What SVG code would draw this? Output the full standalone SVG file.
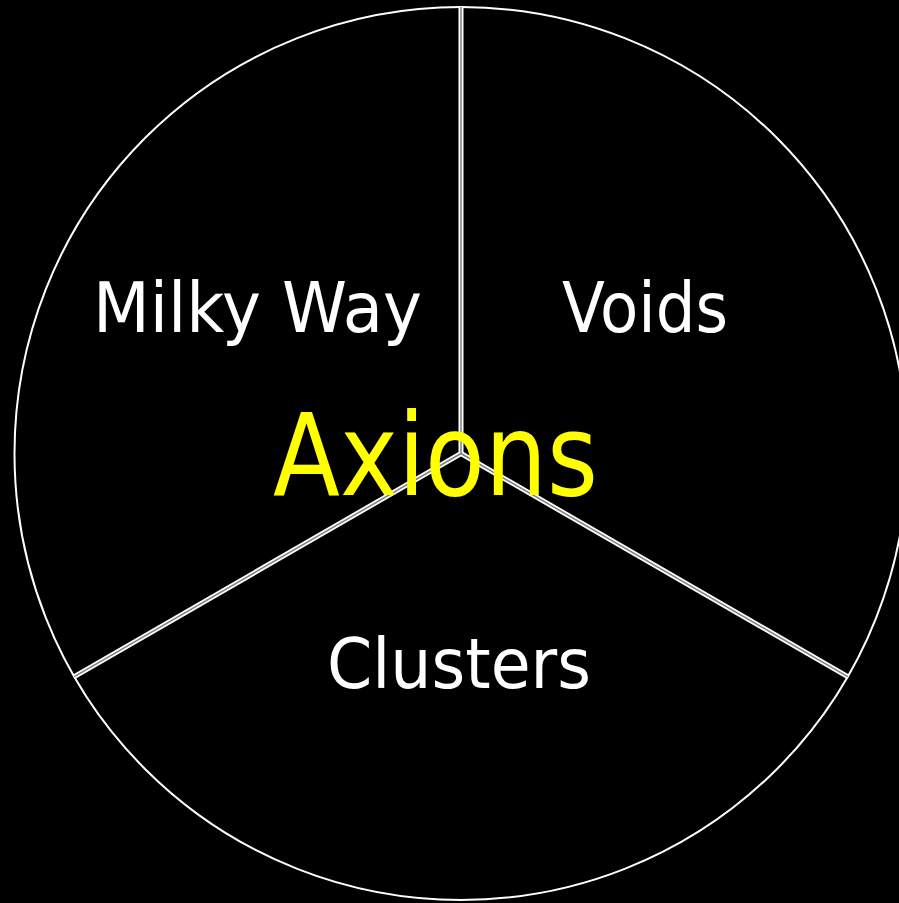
<svg xmlns="http://www.w3.org/2000/svg" width="899" height="903" viewBox="0 0 899 903">
<style>
.lbl{font-family:"DejaVu Sans","Liberation Sans",sans-serif;fill:#ffffff}
.ax{font-family:"DejaVu Sans","Liberation Sans",sans-serif;fill:#ffff00}
.sep{stroke:#ffffff;stroke-width:5;fill:none}
.sepin{stroke:#808080;stroke-width:1.5;fill:none}
</style>
<rect x="0" y="0" width="899" height="903" fill="#000000"/>
<g id="circle">
<circle cx="461" cy="453.5" r="446.5" fill="none" stroke="#ffffff" stroke-width="2"/>
</g>
<g id="connectors">
<path class="sep" d="M461,7 L461,453.5 M461,453.5 L74.3,676.7 M461,453.5 L847.7,676.7"/>
<path class="sepin" d="M461,7 L461,453.5 M461,453.5 L74.3,676.7 M461,453.5 L847.7,676.7"/>
</g>
<g id="milkyway">
<text class="lbl" x="93" y="332" font-size="70" textLength="329" lengthAdjust="spacingAndGlyphs">Milky Way</text>
</g>
<g id="voids">
<text class="lbl" x="562" y="332" font-size="70" textLength="166" lengthAdjust="spacingAndGlyphs">Voids</text>
</g>
<g id="clusters">
<text class="lbl" x="327" y="688" font-size="70" textLength="264" lengthAdjust="spacingAndGlyphs">Clusters</text>
</g>
<g id="axions">
<text class="ax" x="273" y="495" font-size="114" textLength="325" lengthAdjust="spacingAndGlyphs">Axions</text>
</g>
</svg>
